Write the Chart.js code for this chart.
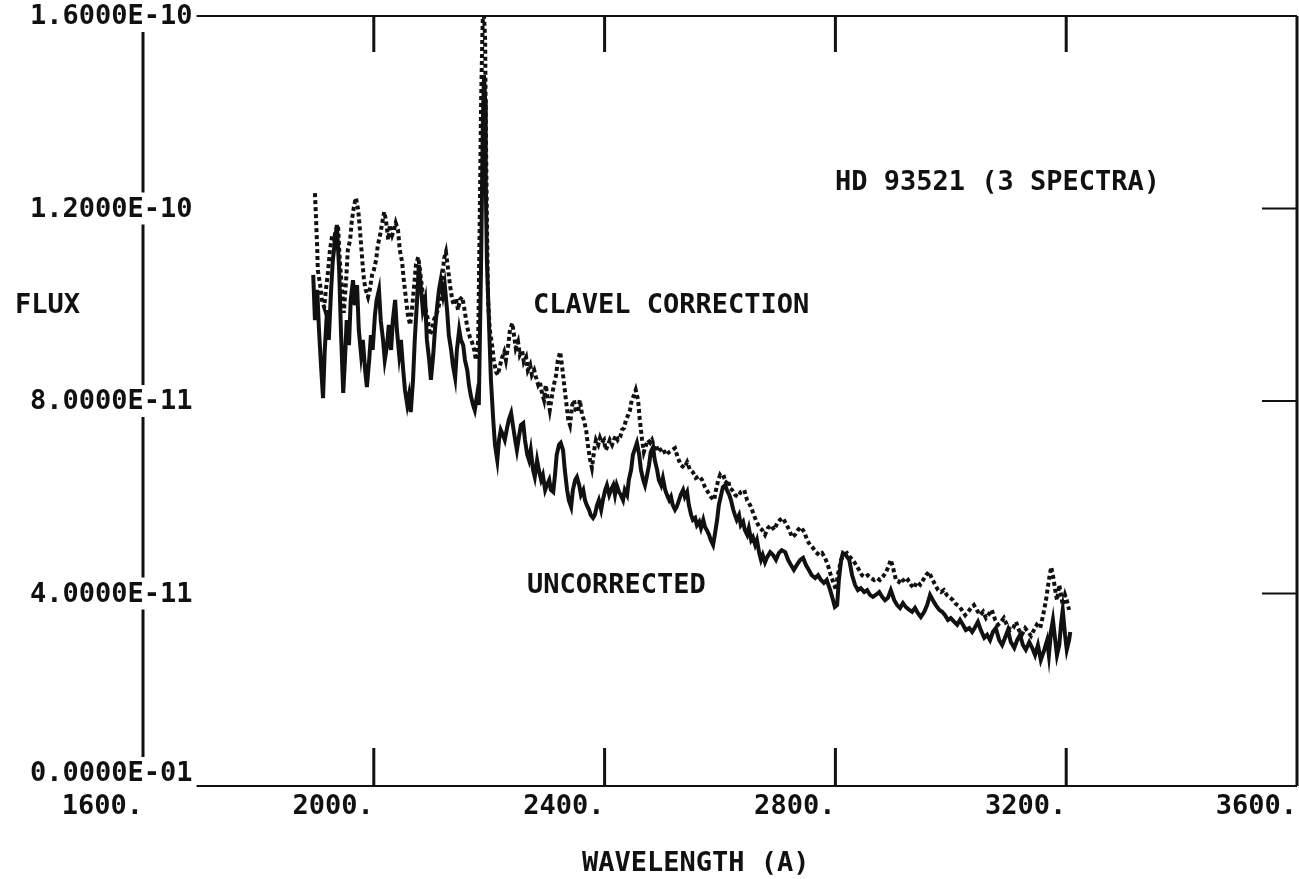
<!DOCTYPE html>
<html>
<head>
<meta charset="utf-8">
<title>HD 93521 flux</title>
<script src="https://cdn.jsdelivr.net/npm/chart.js@4.4.1/dist/chart.umd.min.js"></script>
<style>
  html, body { margin: 0; padding: 0; background: #fff; }
  #wrap { width: 1299px; height: 879px; position: relative; }
</style>
</head>
<body>
<div id="wrap"><canvas id="fluxcanvas"></canvas></div>
<script>
// axis ticks (flux in units of 1e-11)
var xTickValues = [1600, 2000, 2400, 2800, 3200, 3600];
var xTickLabels = ['1600.', '2000.', '2400.', '2800.', '3200.', '3600.'];
var yTickValues = [0, 4, 8, 12, 16];
var yTickLabels = ['0.0000E-01', '4.0000E-11', '8.0000E-11', '1.2000E-10', '1.6000E-10'];

// uncorrected spectrum
var rawWave = [
  1895,1898,1902,1905,1909,1912,1915,1919,1922,1926,
  1929,1933,1936,1940,1943,1947,1950,1953,1957,1960,
  1964,1967,1971,1974,1978,1981,1985,1988,1992,1995,
  1998,2002,2005,2009,2012,2016,2019,2023,2026,2030,
  2033,2037,2040,2044,2047,2051,2054,2058,2061,2064,
  2068,2071,2075,2078,2082,2085,2089,2092,2096,2099,
  2103,2106,2110,2113,2116,2120,2123,2127,2130,2134,
  2137,2141,2144,2148,2151,2155,2158,2162,2165,2168,
  2172,2175,2179,2182,2186,2189,2191,2193,2194,2196,
  2200,2203,2207,2210,2214,2217,2220,2224,2227,2231,
  2234,2238,2241,2245,2248,2252,2255,2259,2262,2266,
  2269,2272,2276,2279,2283,2286,2290,2293,2297,2300,
  2304,2307,2311,2314,2317,2321,2324,2328,2331,2335,
  2338,2342,2345,2349,2352,2356,2359,2363,2366,2369,
  2373,2376,2380,2383,2387,2390,2394,2397,2401,2404,
  2408,2411,2415,2418,2421,2425,2428,2432,2435,2439,
  2442,2446,2449,2453,2456,2460,2463,2467,2470,2473,
  2477,2480,2484,2487,2491,2494,2498,2501,2505,2508,
  2512,2515,2518,2522,2525,2529,2532,2536,2539,2543,
  2546,2550,2553,2557,2560,2564,2567,2571,2574,2577,
  2581,2584,2588,2591,2595,2598,2602,2605,2609,2612,
  2616,2619,2623,2626,2629,2633,2636,2640,2643,2647,
  2650,2654,2657,2661,2664,2668,2671,2674,2678,2681,
  2687,2692,2697,2702,2707,2713,2718,2723,2728,2733,
  2739,2744,2749,2754,2759,2765,2770,2775,2780,2785,
  2791,2796,2799,2803,2806,2810,2813,2818,2824,2829,
  2834,2839,2844,2850,2855,2860,2865,2870,2876,2881,
  2886,2891,2896,2902,2907,2912,2917,2922,2928,2933,
  2938,2943,2948,2954,2959,2964,2969,2974,2980,2985,
  2990,2995,3000,3006,3011,3016,3021,3026,3032,3037,
  3042,3047,3052,3058,3063,3068,3073,3078,3084,3089,
  3094,3099,3104,3110,3115,3120,3125,3130,3136,3141,
  3146,3151,3156,3162,3167,3170,3174,3177,3181,3184,
  3188,3191,3194,3198,3201,3205,3207
];
var rawFlux = [
  10.62,9.68,10.31,9.48,8.64,8.06,9.06,9.89,9.27,10.31,
  10.93,11.35,11.66,10.72,9.48,8.17,8.85,9.68,9.16,10.10,
  10.51,9.99,10.41,9.48,8.96,9.27,8.64,8.29,8.85,9.37,
  9.06,9.79,10.10,10.31,9.68,9.27,8.85,9.16,9.58,9.06,
  9.68,10.10,9.48,8.96,9.27,8.64,8.23,7.92,8.12,7.77,
  8.44,9.27,10.10,10.83,10.31,9.89,10.10,9.27,8.85,8.44,
  8.96,9.48,9.99,10.31,10.51,10.20,10.41,9.89,9.37,9.06,
  8.75,8.48,9.06,9.48,9.27,9.16,8.85,8.64,8.33,8.12,
  7.92,7.81,8.12,7.92,10.93,13.84,14.77,14.25,12.59,10.93,
  9.48,8.44,7.61,7.09,6.77,7.19,7.40,7.29,7.19,7.44,
  7.61,7.75,7.50,7.19,6.98,7.29,7.50,7.54,7.19,6.88,
  6.77,6.98,6.57,6.42,6.77,6.57,6.36,6.46,6.15,6.25,
  6.36,6.15,6.11,6.46,6.88,7.09,7.13,6.98,6.57,6.15,
  5.94,5.80,6.15,6.36,6.42,6.25,6.05,6.15,5.94,5.84,
  5.74,5.63,5.57,5.63,5.84,5.94,5.74,5.94,6.15,6.25,
  6.05,6.15,6.25,6.05,6.25,6.11,6.05,5.94,6.15,6.05,
  6.36,6.57,6.88,7.02,7.13,6.88,6.57,6.36,6.25,6.42,
  6.67,6.94,7.04,6.77,6.57,6.36,6.25,6.40,6.15,6.05,
  5.94,6.01,5.84,5.74,5.80,5.94,6.05,6.15,6.01,6.11,
  5.84,5.63,5.53,5.57,5.42,5.49,5.36,5.53,5.38,5.32,
  5.22,5.11,5.01,5.22,5.53,5.84,6.05,6.21,6.25,6.15,
  6.05,5.94,5.74,5.63,5.53,5.63,5.42,5.49,5.32,5.22,
  5.36,5.11,5.17,5.01,5.11,4.84,4.70,4.80,4.65,4.74,
  4.86,4.80,4.70,4.84,4.90,4.86,4.70,4.59,4.49,4.59,
  4.70,4.74,4.59,4.49,4.38,4.32,4.38,4.28,4.22,4.28,
  4.07,3.86,3.72,3.76,4.28,4.70,4.84,4.80,4.70,4.38,
  4.18,4.07,4.11,4.03,4.07,3.97,3.93,3.97,4.03,3.93,
  3.86,3.91,4.07,3.86,3.76,3.70,3.80,3.72,3.66,3.62,
  3.70,3.59,3.51,3.62,3.76,3.97,3.86,3.76,3.66,3.62,
  3.55,3.45,3.49,3.41,3.35,3.45,3.35,3.24,3.28,3.20,
  3.30,3.41,3.24,3.08,3.14,3.03,3.20,3.28,3.03,2.93,
  3.08,3.24,2.99,2.87,3.03,3.14,2.93,2.83,2.99,2.87,
  2.72,2.93,2.62,2.83,3.03,2.72,3.24,3.45,3.03,2.72,
  2.93,3.35,3.66,3.14,2.83,3.03,3.20
];

// spectrum with Clavel correction
var clavelWave = [
  1898,1900,1902,1903,1907,1910,1914,1917,1921,1924,
  1928,1931,1934,1938,1941,1945,1948,1952,1955,1959,
  1962,1966,1969,1973,1976,1980,1983,1986,1990,1993,
  1997,2000,2004,2007,2011,2014,2018,2021,2025,2028,
  2032,2035,2038,2042,2045,2049,2052,2056,2059,2063,
  2066,2070,2073,2077,2080,2084,2087,2090,2094,2097,
  2101,2104,2108,2111,2115,2118,2122,2125,2129,2132,
  2136,2139,2142,2146,2149,2153,2156,2160,2163,2167,
  2170,2174,2177,2181,2184,2186,2188,2189,2191,2193,
  2194,2196,2198,2201,2205,2208,2212,2215,2219,2222,
  2226,2229,2233,2236,2240,2243,2246,2250,2253,2257,
  2260,2264,2267,2271,2274,2278,2281,2285,2288,2291,
  2295,2298,2302,2305,2309,2312,2316,2319,2323,2326,
  2330,2333,2337,2340,2344,2347,2350,2354,2357,2361,
  2364,2368,2371,2375,2378,2382,2385,2389,2392,2395,
  2399,2402,2406,2409,2413,2416,2420,2423,2427,2430,
  2434,2437,2441,2444,2447,2451,2454,2458,2461,2465,
  2468,2472,2475,2479,2482,2486,2489,2493,2496,2501,
  2506,2512,2517,2522,2527,2532,2538,2543,2548,2553,
  2558,2564,2569,2574,2579,2584,2590,2593,2597,2600,
  2603,2607,2610,2614,2617,2621,2626,2631,2636,2642,
  2647,2652,2657,2662,2668,2673,2678,2683,2688,2694,
  2699,2704,2709,2714,2720,2725,2730,2735,2740,2746,
  2751,2756,2761,2766,2772,2777,2782,2787,2792,2798,
  2801,2804,2810,2815,2820,2825,2830,2836,2841,2846,
  2851,2856,2862,2867,2872,2877,2883,2888,2893,2896,
  2900,2905,2910,2915,2921,2926,2931,2936,2941,2947,
  2952,2957,2962,2967,2973,2978,2983,2988,2993,2999,
  3004,3009,3014,3019,3025,3030,3035,3040,3045,3051,
  3056,3061,3066,3071,3077,3082,3087,3092,3097,3103,
  3108,3113,3118,3123,3129,3134,3139,3144,3149,3155,
  3160,3165,3170,3174,3177,3181,3184,3188,3191,3194,
  3198,3201,3205
];
var clavelFlux = [
  12.32,11.76,11.14,10.72,10.41,10.10,9.95,10.31,10.72,11.14,
  11.45,11.35,11.55,11.66,10.93,10.31,9.83,10.51,11.14,11.35,
  11.76,12.07,12.22,11.97,11.55,10.93,10.51,10.31,10.16,10.31,
  10.62,10.72,10.93,11.24,11.45,11.66,11.93,11.76,11.35,11.66,
  11.45,11.55,11.70,11.55,11.14,10.89,10.51,10.10,9.79,9.58,
  9.89,10.41,10.83,10.99,10.72,10.31,10.10,9.89,9.68,9.37,
  9.48,9.68,9.79,9.89,10.10,10.51,10.97,11.10,10.72,10.41,
  10.10,9.99,10.14,9.89,10.10,10.16,9.99,9.68,9.48,9.31,
  9.23,9.06,8.85,9.27,12.18,14.25,15.50,16.00,16.00,15.50,
  13.84,11.76,10.10,9.48,9.16,8.85,8.60,8.54,8.75,8.89,
  9.02,8.85,9.16,9.48,9.62,9.37,9.10,9.23,8.96,9.06,
  8.81,8.91,8.64,8.75,8.54,8.64,8.50,8.33,8.39,8.19,
  8.02,8.33,8.02,7.81,8.12,8.33,8.54,8.85,9.02,8.75,
  8.33,8.02,7.61,7.50,7.92,8.02,7.81,7.77,8.02,7.71,
  7.61,7.40,7.09,6.77,6.61,6.98,7.19,7.09,7.23,7.13,
  7.19,6.98,7.09,7.19,7.09,7.19,7.29,7.19,7.25,7.40,
  7.44,7.61,7.71,7.81,8.02,8.12,8.23,8.02,7.61,7.19,
  6.94,7.09,7.19,7.13,7.19,7.02,7.09,6.94,6.98,7.02,
  6.88,6.94,6.98,7.02,6.82,6.67,6.61,6.73,6.57,6.52,
  6.40,6.44,6.36,6.21,6.11,6.01,5.94,6.15,6.36,6.46,
  6.40,6.42,6.30,6.36,6.19,6.15,6.05,6.01,6.11,6.15,
  5.94,5.84,5.69,5.53,5.38,5.32,5.22,5.36,5.42,5.32,
  5.46,5.53,5.57,5.46,5.32,5.17,5.22,5.32,5.38,5.28,
  5.11,5.01,4.95,4.86,4.80,4.84,4.74,4.59,4.38,4.18,
  4.07,4.38,4.70,4.80,4.84,4.76,4.70,4.59,4.49,4.38,
  4.34,4.38,4.32,4.28,4.32,4.28,4.36,4.45,4.59,4.70,
  4.53,4.28,4.24,4.32,4.22,4.28,4.18,4.11,4.24,4.18,
  4.28,4.38,4.45,4.32,4.18,4.07,4.03,4.07,3.97,3.91,
  3.86,3.78,3.74,3.66,3.55,3.62,3.70,3.76,3.66,3.55,
  3.62,3.49,3.57,3.66,3.45,3.35,3.41,3.49,3.35,3.24,
  3.28,3.41,3.24,3.14,3.28,3.20,3.12,3.24,3.35,3.28,
  3.55,3.86,4.28,4.55,4.38,4.07,3.86,4.18,3.97,3.76,
  3.97,3.86,3.66
];

var INK = '#111';
var FONT = 'bold 27px "DejaVu Sans Mono", "Liberation Mono", monospace';

function toPoints(xs, ys) {
  var pts = [];
  for (var i = 0; i < xs.length; i++) pts.push({x: xs[i], y: ys[i]});
  return pts;
}

function seg(ctx, x1, y1, x2, y2, w) {
  ctx.lineWidth = w;
  ctx.beginPath();
  ctx.moveTo(x1, y1);
  ctx.lineTo(x2, y2);
  ctx.stroke();
}

// plotter style frame, inner ticks and all the lettering
var plotterFrame = {
  id: 'plotterFrame',
  afterDraw: function(chart) {
    var ctx = chart.ctx;
    var a = chart.chartArea;
    var xs = chart.scales.x, ys = chart.scales.y;
    ctx.save();
    ctx.strokeStyle = INK;
    seg(ctx, a.left, a.top, a.right, a.top, 2);
    seg(ctx, a.right, a.top, a.right, a.bottom, 3);
    seg(ctx, a.left, a.bottom, a.right, a.bottom, 2);
    seg(ctx, a.left, a.top, a.left, a.bottom, 3);

    var i, px, py;
    for (i = 1; i < xTickValues.length - 1; i++) {
      px = xs.getPixelForValue(xTickValues[i]);
      seg(ctx, px, a.top, px, a.top + 36, 3);
      seg(ctx, px, a.bottom, px, a.bottom - 38, 3);
    }
    for (i = 1; i < yTickValues.length - 1; i++) {
      py = ys.getPixelForValue(yTickValues[i]);
      seg(ctx, a.right - 35, py, a.right, py, 2);
    }

    ctx.font = FONT;
    ctx.textBaseline = 'middle';
    ctx.textAlign = 'left';
    for (i = 0; i < yTickValues.length; i++) {
      py = ys.getPixelForValue(yTickValues[i]);
      if (i === 0) py -= 13;
      var w = ctx.measureText(yTickLabels[i]).width;
      ctx.fillStyle = '#fff';
      ctx.fillRect(26, py - 16, w + 8, 32);
      ctx.fillStyle = INK;
      ctx.fillText(yTickLabels[i], 30, py + 1);
    }

    ctx.textAlign = 'right';
    ctx.textBaseline = 'top';
    for (i = 0; i < xTickValues.length; i++) {
      px = xs.getPixelForValue(xTickValues[i]);
      ctx.fillText(xTickLabels[i], px, a.bottom + 7);
    }

    ctx.textAlign = 'left';
    ctx.textBaseline = 'middle';
    ctx.fillText('FLUX', 15, 306);
    ctx.fillText('WAVELENGTH (A)', 582, 864);
    ctx.fillText('HD 93521 (3 SPECTRA)', 835, 183);
    ctx.fillText('CLAVEL CORRECTION', 533, 306);
    ctx.fillText('UNCORRECTED', 527, 586);
    ctx.restore();
  }
};

var ctx = document.getElementById('fluxcanvas');

var fluxChart = new Chart(ctx, {
  type: 'line',
  data: {
    datasets: [
      {
        label: 'CLAVEL CORRECTION',
        data: toPoints(clavelWave, clavelFlux),
        borderColor: INK,
        borderWidth: 4,
        borderDash: [4, 3],
        pointRadius: 0,
        tension: 0,
        fill: false
      },
      {
        label: 'UNCORRECTED',
        data: toPoints(rawWave, rawFlux),
        borderColor: INK,
        borderWidth: 4,
        pointRadius: 0,
        tension: 0,
        fill: false
      }
    ]
  },
  options: {
    responsive: true,
    maintainAspectRatio: false,
    animation: false,
    layout: { padding: { left: 143, right: 2, top: 16, bottom: 93 } },
    plugins: { legend: { display: false }, tooltip: { enabled: false } },
    scales: {
      x: { type: 'linear', min: 1600, max: 3600, display: false },
      y: { type: 'linear', min: 0, max: 16, display: false }
    }
  },
  plugins: [plotterFrame]
});
</script>
</body>
</html>
